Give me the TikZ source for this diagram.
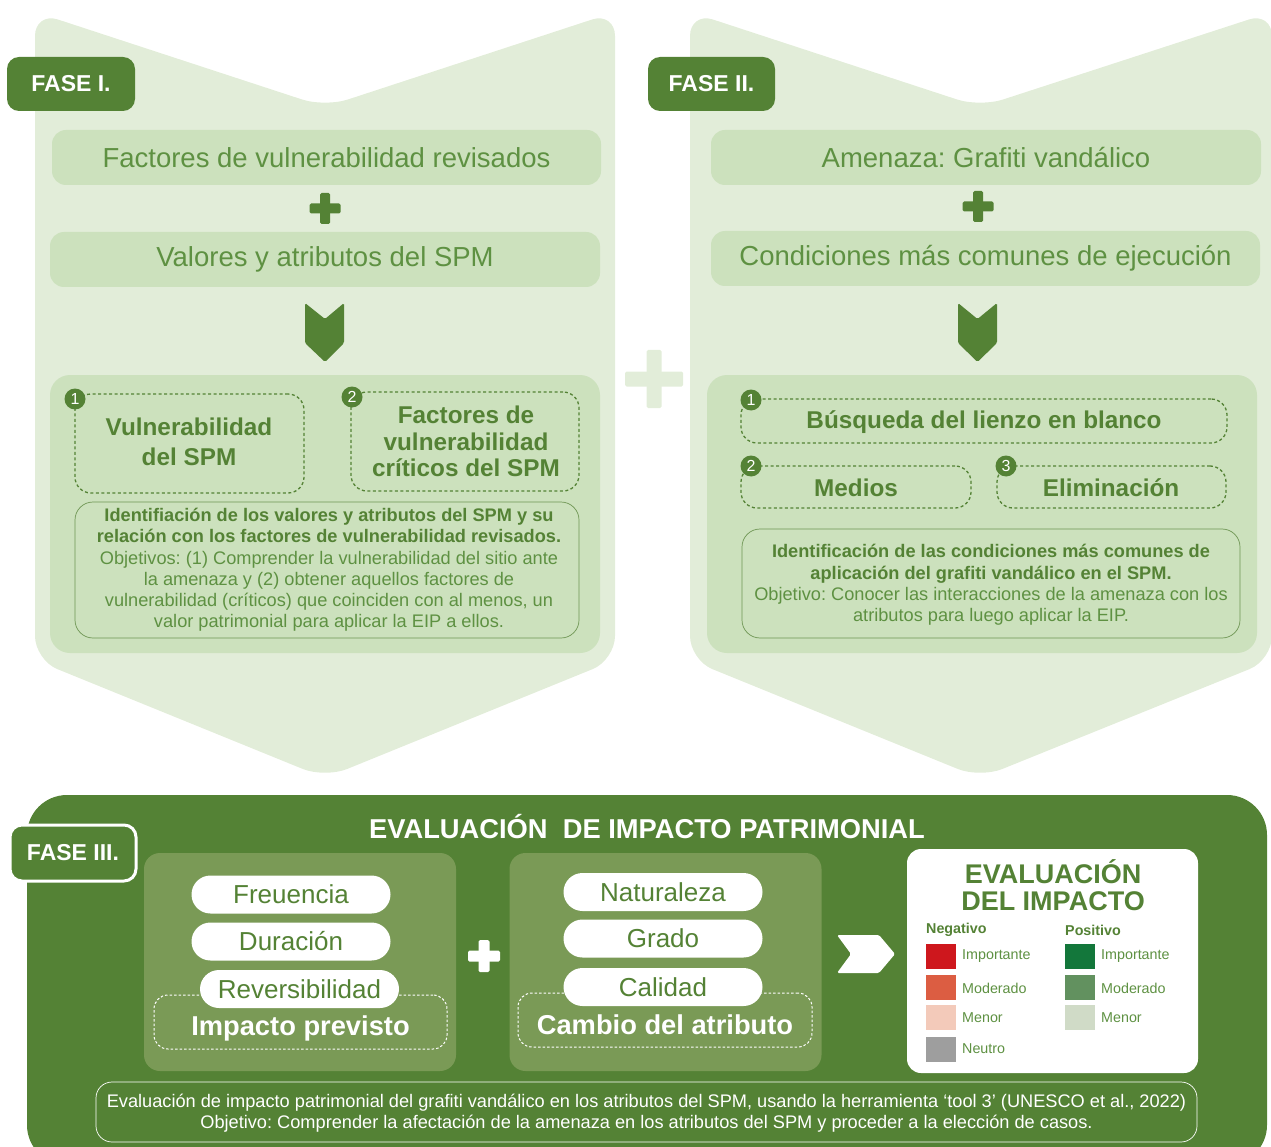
\documentclass[tikz,border=0pt]{standalone}
\usepackage{fontspec}
\setmainfont{Liberation Sans}
\definecolor{dk}{HTML}{548235}
\definecolor{bgl}{HTML}{E2EDD9}
\definecolor{boxl}{HTML}{CCE1BD}
\definecolor{txt}{HTML}{5E9142}
\definecolor{subp}{HTML}{7A9A56}
\definecolor{nimp}{HTML}{CE171D}
\definecolor{nmod}{HTML}{DC5D42}
\definecolor{nmen}{HTML}{F3CABA}
\definecolor{neut}{HTML}{9E9E9E}
\definecolor{pimp}{HTML}{13773B}
\definecolor{pmod}{HTML}{62915F}
\definecolor{pmen}{HTML}{D0DBC7}
\newcommand\fsz[2]{\fontsize{#1}{#2}\selectfont}
\newcommand\plussign[5]{%
  \fill[#1,rounded corners=1.5] (#2-#5,#3-#4) rectangle (#2+#5,#3+#4);
  \fill[#1,rounded corners=1.5] (#2-#4,#3-#5) rectangle (#2+#4,#3+#5);}
\tikzset{
  lbox/.style={fill=boxl, rounded corners=14, inner sep=0, text=txt, font=\fsz{27.5}{31}},
  dbox/.style={draw=dk, dash pattern=on 3pt off 2.5pt, line width=1.3, rounded corners=16, inner sep=0},
  numc/.style={circle, fill=dk, minimum size=21, inner sep=0, text=white, font=\fsz{16}{18}},
  btxt/.style={text=dk, font=\bfseries\fsz{24.3}{27}, align=center},
  tbox/.style={draw=dk!85, line width=0.7, rounded corners=18, inner sep=0},
  ttxt/.style={text=txt, font=\fsz{18.2}{21.2}, align=center},
  tab/.style={fill=dk, rounded corners=12, text=white, font=\bfseries\fsz{23}{26}, inner sep=0},
  subpanel/.style={fill=subp, rounded corners=16, minimum width=312, minimum height=218, inner sep=0},
  pill/.style={fill=white, rounded corners=19, minimum width=199, minimum height=38, inner sep=0, text=dk, font=\fsz{26}{30}},
  wdash/.style={draw=white, dash pattern=on 2.5pt off 2pt, line width=1, rounded corners=14, inner sep=0},
  wbold/.style={text=white, font=\bfseries\fsz{27.3}{30}},
  sq/.style={minimum width=30, minimum height=25, inner sep=0},
  legt/.style={text=txt, font=\fsz{14.3}{16}, anchor=west, inner sep=0},
  legh/.style={text=dk, font=\bfseries\fsz{14.3}{16}, anchor=west, inner sep=0},
}
\begin{document}
\frenchspacing
\begin{tikzpicture}[x=1pt,y=-1pt]
\useasboundingbox (0,0) rectangle (1271,1147);
\clip (0,0) rectangle (1271,1147);
% ---------- background chevrons
\fill[bgl, rounded corners=24] (35,400) -- (35,12) -- (325,107) -- (615,12) -- (615,660) -- (325,778) -- (35,660) -- cycle;
\fill[bgl, rounded corners=24] (690,400) -- (690,12) -- (980,107) -- (1272,12) -- (1272,660) -- (980,778) -- (690,660) -- cycle;
\plussign{bgl}{654}{379}{29}{7.5}
% ---------- FASE I
\node[tab, minimum width=128, minimum height=54] (tab1) at (71,84) {FASE I.};
\node[lbox, minimum width=549, minimum height=55] (f1a) at (326.5,157.5) {Factores de vulnerabilidad revisados};
\plussign{dk}{325}{208.5}{15.5}{5}
\node[lbox, minimum width=550, minimum height=55] (f1b) at (325,259.5) {Valores y atributos del SPM};
\fill[dk, rounded corners=1.5] (305,303) -- (325,319) -- (344,303) -- (344,343) -- (325,362) -- (305,343) -- cycle;
\node[fill=boxl, rounded corners=20, minimum width=550, minimum height=278, inner sep=0] (p1) at (325,514) {};
\node[dbox, minimum width=229, minimum height=99] (d11) at (189.5,443.5) {};
\node[btxt, font=\bfseries\fsz{24.3}{30}] (d11t) at (189,442) {Vulnerabilidad\\del SPM};
\node[numc] (c11) at (75,399) {1};
\node[dbox, minimum width=228, minimum height=99] (d12) at (465,441.5) {};
\node[btxt, font=\bfseries\fsz{24.3}{26.5}] (d12t) at (466,441.5) {Factores de\\vulnerabilidad\\críticos del SPM};
\node[numc] (c12) at (352,397) {2};
\node[tbox, minimum width=504, minimum height=136] (t1) at (327,570) {};
\node[ttxt] (t1t) at (329,570) {{\color{dk}\bfseries Identifiación de los valores y atributos del SPM y su}\\
{\color{dk}\bfseries relación con los factores de vulnerabilidad revisados.}\\
Objetivos: (1) Comprender la vulnerabilidad del sitio ante\\
la amenaza y (2) obtener aquellos factores de\\
vulnerabilidad (críticos) que coinciden con al menos, un\\
valor patrimonial para aplicar la EIP a ellos.};
% ---------- FASE II
\node[tab, minimum width=127, minimum height=54] (tab2) at (711.5,84) {FASE II.};
\node[lbox, minimum width=550, minimum height=55] (f2a) at (986,157.5) {Amenaza: Grafiti vandálico};
\plussign{dk}{978}{206.5}{15.5}{5}
\node[lbox, minimum width=549, minimum height=55] (f2b) at (985.5,258.5) {Condiciones más comunes de ejecución};
\fill[dk, rounded corners=1.5] (958,303) -- (977.5,319) -- (997,303) -- (997,343) -- (977.5,362) -- (958,343) -- cycle;
\node[fill=boxl, rounded corners=20, minimum width=550, minimum height=278, inner sep=0] (p2) at (982,514) {};
\node[dbox, minimum width=486, minimum height=44] (d21) at (984,421) {};
\node[btxt] (d21t) at (984,422) {Búsqueda del lienzo en blanco};
\node[numc] (c21) at (751,400) {1};
\node[dbox, minimum width=230, minimum height=42] (d22) at (856,487) {};
\node[btxt] (d22t) at (856,488) {Medios};
\node[numc] (c22) at (751,466) {2};
\node[dbox, minimum width=229, minimum height=42] (d23) at (1111.5,487) {};
\node[btxt] (d23t) at (1111,488) {Eliminación};
\node[numc] (c23) at (1006,466) {3};
\node[tbox, minimum width=498, minimum height=109] (t2) at (991,583.5) {};
\node[ttxt] (t2t) at (991,585) {{\color{dk}\bfseries Identificación de las condiciones más comunes de}\\
{\color{dk}\bfseries aplicación del grafiti vandálico en el SPM.}\\
Objetivo: Conocer las interacciones de la amenaza con los\\
atributos para luego aplicar la EIP.};
% ---------- FASE III
\fill[dk, rounded corners=40] (27,795) rectangle (1267,1165);
\node[tab, draw=white, line width=3, minimum width=126, minimum height=56] (tab3) at (73,853) {FASE III.};
\node[text=white, font=\bfseries\fsz{27.3}{30}] (title) at (647,827) {EVALUACIÓN\ \ DE IMPACTO PATRIMONIAL};
\node[subpanel] (s1) at (300,962) {};
\node[wdash, minimum width=293, minimum height=54] (ip) at (300.5,1022) {};
\node[wbold] (ipt) at (300.5,1028) {Impacto previsto};
\node[pill] (fr) at (291,894.5) {Freuencia};
\node[pill] (du) at (291,941.5) {Duración};
\node[pill] (re) at (299.5,989) {Reversibilidad};
\plussign{white}{484}{956}{16}{5.5}
\node[subpanel] (s2) at (665.5,962) {};
\node[wdash, minimum width=294, minimum height=54] (ca) at (665,1020) {};
\node[wbold] (cat) at (665,1025) {Cambio del atributo};
\node[pill] (na) at (663,892) {Naturaleza};
\node[pill] (gr) at (663,938.5) {Grado};
\node[pill] (cl) at (663,987) {Calidad};
\fill[white, rounded corners=1.5] (837,935) -- (879,935) -- (895,954) -- (879,973) -- (837,973) -- (851,954) -- cycle;
% legend
\node[fill=white, rounded corners=14, minimum width=291, minimum height=224, inner sep=0] (leg) at (1052.5,961) {};
\node[text=dk, font=\bfseries\fsz{27}{27}, align=center] (legT) at (1053,885) {EVALUACIÓN\\DEL IMPACTO};
\node[legh] (neg) at (926,930) {Negativo};
\node[legh] (pos) at (1065,930) {Positivo};
\node[sq, fill=nimp] (n1) at (941,956.5) {};
\node[sq, fill=nmod] (n2) at (941,987.5) {};
\node[sq, fill=nmen] (n3) at (941,1017) {};
\node[sq, fill=neut] (n4) at (941,1049) {};
\node[legt] (n1t) at (962,956) {Importante};
\node[legt] (n2t) at (962,988) {Moderado};
\node[legt] (n3t) at (962,1018) {Menor};
\node[legt] (n4t) at (962,1049) {Neutro};
\node[sq, fill=pimp] (p1s) at (1080,956.5) {};
\node[sq, fill=pmod] (p2s) at (1080,987.5) {};
\node[sq, fill=pmen] (p3s) at (1080,1017) {};
\node[legt] (p1t) at (1101,956) {Importante};
\node[legt] (p2t) at (1101,988) {Moderado};
\node[legt] (p3t) at (1101,1018) {Menor};
% bottom text
\node[draw=white, line width=0.7, rounded corners=16, minimum width=1101, minimum height=60, inner sep=0] (bt) at (646.5,1112) {};
\node[text=white, font=\fsz{18.2}{21}, align=center] (btt) at (646.5,1113.5) {Evaluación de impacto patrimonial del grafiti vandálico en los atributos del SPM, usando la herramienta ‘tool 3’ (UNESCO et al., 2022)\\
Objetivo: Comprender la afectación de la amenaza en los atributos del SPM y proceder a la elección de casos.};
\end{tikzpicture}
\end{document}
